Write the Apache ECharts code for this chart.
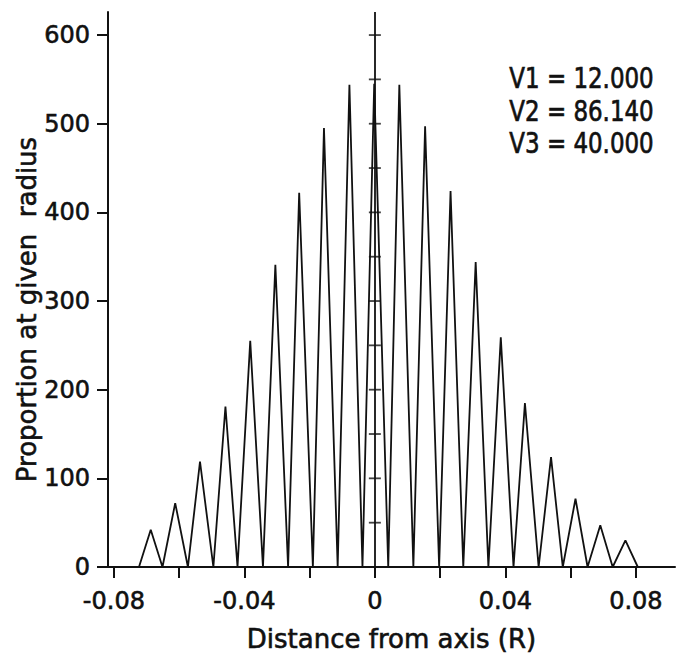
<!DOCTYPE html>
<html>
<head>
<meta charset="utf-8">
<script src="https://cdn.jsdelivr.net/npm/echarts@6/dist/echarts.min.js"></script>
<style>html,body{margin:0;padding:0;background:#fff}#c{width:679px;height:654px}</style>
</head>
<body>
<div id="c"></div>
<script>
// ---- data ----
const valleyX = [-0.0723,-0.0651,-0.0573,-0.0495,-0.0421,-0.0343,-0.0266,-0.0190,-0.0114,-0.0038,
                 0.0041,0.0118,0.0197,0.0271,0.0348,0.0425,0.0502,0.0576,0.0652,0.0729,0.0806];
const peakX   = [-0.0687,-0.0612,-0.0536,-0.0458,-0.0382,-0.0305,-0.0232,-0.0156,-0.0078,-0.0002,
                 0.0075,0.0154,0.0232,0.0309,0.0386,0.0460,0.0540,0.0615,0.0691,0.0768];
const peakY   = [42,72,119,181,255,341,422,495,544,545,
                 544,497,424,344,259,185,124,77,47,30];
const xTickValues  = [-0.08,-0.06,-0.04,-0.02,0,0.02,0.04,0.06,0.08];
const xLabelValues = [-0.08,-0.04,0,0.04,0.08];
const yTickValues  = [0,100,200,300,400,500,600];
const centerTickY  = [50,100,150,200,250,300,350,400,450,500,550,600];
const annotations  = ['V1 = 12.000','V2 = 86.140','V3 = 40.000'];
const xName = 'Distance from axis (R)';
const yName = 'Proportion at given  radius';

// build the polyline: valley, peak, valley, ...
const curve = [];
for (let i = 0; i < valleyX.length; i++) {
  curve.push([valleyX[i], 0]);
  if (i < peakX.length) curve.push([peakX[i], peakY[i]]);
}

const FONT = 'DejaVu Sans';
const INK = '#111';
const heavy = {textBorderColor: INK, textBorderWidth: 0.6};
const chart = echarts.init(document.getElementById('c'), null, {renderer: 'svg'});
chart.setOption({
  animation: false,
  backgroundColor: '#fff',
  grid: {left: 108, right: 4, top: 12, bottom: 87, containLabel: false, outerBoundsMode: 'none'},
  xAxis: {
    type: 'value', min: -0.0818, max: 0.092,
    name: xName, nameLocation: 'middle', nameGap: 59, nameMoveOverlap: false,
    nameTextStyle: Object.assign({fontFamily: FONT, fontSize: 26, color: INK}, heavy),
    axisLine: {show: true, onZero: false, lineStyle: {color: INK, width: 2}},
    axisTick: {show: true, inside: false, length: 11, lineStyle: {color: INK, width: 2}, customValues: xTickValues},
    axisLabel: Object.assign({show: true, margin: 22, fontFamily: FONT, fontSize: 24, color: INK,
      customValues: xLabelValues,
      formatter: v => (Math.abs(v) < 1e-9 ? '0' : (v < 0 ? '-' : '') + Math.abs(v).toFixed(2))}, heavy),
    splitLine: {show: false}
  },
  yAxis: {
    type: 'value', min: 0, max: 626,
    name: yName, nameLocation: 'middle', nameRotate: 90, nameGap: 68, nameMoveOverlap: false,
    nameTextStyle: Object.assign({fontFamily: FONT, fontSize: 26, color: INK, padding: [0, 40, 0, 0]}, heavy),
    axisLine: {show: true, onZero: false, lineStyle: {color: INK, width: 2}},
    axisTick: {show: true, inside: false, length: 11, lineStyle: {color: INK, width: 2}, customValues: yTickValues},
    axisLabel: Object.assign({show: true, margin: 18, fontFamily: FONT, fontSize: 24, color: INK, customValues: yTickValues}, heavy),
    splitLine: {show: false}
  },
  series: [
    {
      type: 'line', data: curve, symbol: 'none', z: 3,
      lineStyle: {color: INK, width: 1.8},
      markLine: {
        silent: true, symbol: ['none', 'none'], label: {show: false},
        lineStyle: {color: INK, width: 1.8, type: 'solid'},
        data: [{xAxis: 0}]
      }
    },
    {
      type: 'scatter', data: centerTickY.map(y => [0, y]), z: 4,
      symbol: 'rect', symbolSize: [12, 1.8], itemStyle: {color: INK}, silent: true
    }
  ],
  graphic: annotations.map((t, i) => ({
    type: 'text', left: 509, top: 64 + i * 32.5, scaleX: 0.82, originX: 0,
    style: {text: t, fontFamily: FONT, fontSize: 28, fill: INK, stroke: INK, lineWidth: 0.7}
  }))
});
</script>
</body>
</html>
